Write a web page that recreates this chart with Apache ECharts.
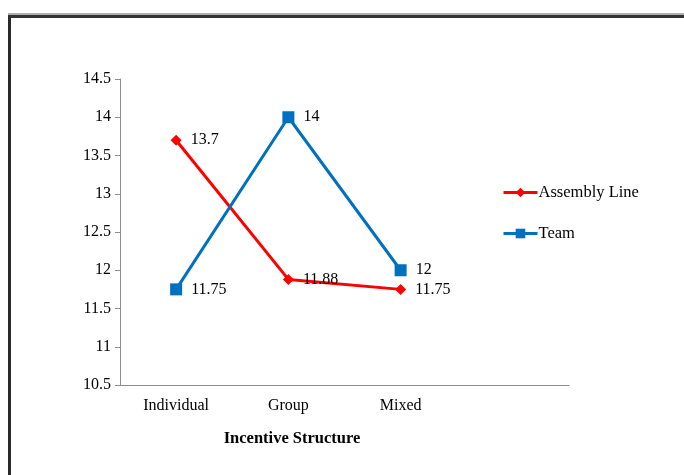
<!DOCTYPE html>
<html>
<head>
<meta charset="utf-8">
<script src="https://cdn.jsdelivr.net/npm/echarts@6/dist/echarts.min.js"></script>
<style>
html,body{margin:0;padding:0;background:#fff;}
#frame{position:absolute;left:8px;top:15px;width:700px;height:500px;border-top:3px solid #333;border-left:3px solid #2a2a2a;box-shadow:0 -2px 0 #b0b0b0;}
#main{position:absolute;left:0;top:0;width:684px;height:475px;}
</style>
</head>
<body>
<div id="frame"></div>
<div id="main"></div>
<script>
var categories = ['Individual', 'Group', 'Mixed', ''];
var assemblyLine = [13.7, 11.88, 11.75];
var team = [11.75, 14, 12];
var yTicks = { min: 10.5, max: 14.5, interval: 0.5 };

var chart = echarts.init(document.getElementById('main'), null, { renderer: 'canvas' });
var font = 'Liberation Serif, Times New Roman, serif';
chart.setOption({
  backgroundColor: 'transparent',
  animation: false,
  title: {
    text: 'Incentive Structure',
    left: 287, top: 425, textAlign: 'center',
    textStyle: { fontFamily: font, fontSize: 16.5, fontWeight: 'bold', color: '#000' }
  },
  legend: {
    orient: 'vertical',
    left: 497, top: 179,
    itemGap: 24,
    itemWidth: 34, itemHeight: 12,
    lineStyle: { width: 3 },
    textStyle: { fontFamily: font, fontSize: 16.5, color: '#000', padding: [0, 0, 0, -4] },
    data: ['Assembly Line', 'Team']
  },
  grid: { left: 120, right: 115, top: 79, bottom: 90 },
  xAxis: {
    type: 'category',
    data: categories,
    boundaryGap: true,
    axisLine: { lineStyle: { color: '#8c8c8c', width: 1 } },
    axisTick: { show: false },
    axisLabel: { fontFamily: font, fontSize: 16, color: '#000', margin: 13 }
  },
  yAxis: {
    type: 'value',
    min: yTicks.min, max: yTicks.max, interval: yTicks.interval,
    axisLine: { show: true, lineStyle: { color: '#8c8c8c', width: 1 } },
    axisTick: { show: true, inside: false, length: 5, lineStyle: { color: '#8c8c8c' } },
    splitLine: { show: false },
    axisLabel: { fontFamily: font, fontSize: 16, color: '#000', margin: 9 }
  },
  series: [
    {
      name: 'Assembly Line', type: 'line', data: assemblyLine,
      symbol: 'diamond', symbolSize: 11,
      itemStyle: { color: '#ff0000' },
      lineStyle: { color: '#ff0000', width: 3 },
      label: { show: true, position: 'right', distance: 9, fontFamily: font, fontSize: 16, color: '#000' },
      z: 2
    },
    {
      name: 'Team', type: 'line', data: team,
      symbol: 'rect', symbolSize: 12,
      itemStyle: { color: '#0070c0' },
      lineStyle: { color: '#0070c0', width: 3 },
      label: { show: true, position: 'right', distance: 9, fontFamily: font, fontSize: 16, color: '#000' },
      z: 3
    }
  ]
});
</script>
</body>
</html>
